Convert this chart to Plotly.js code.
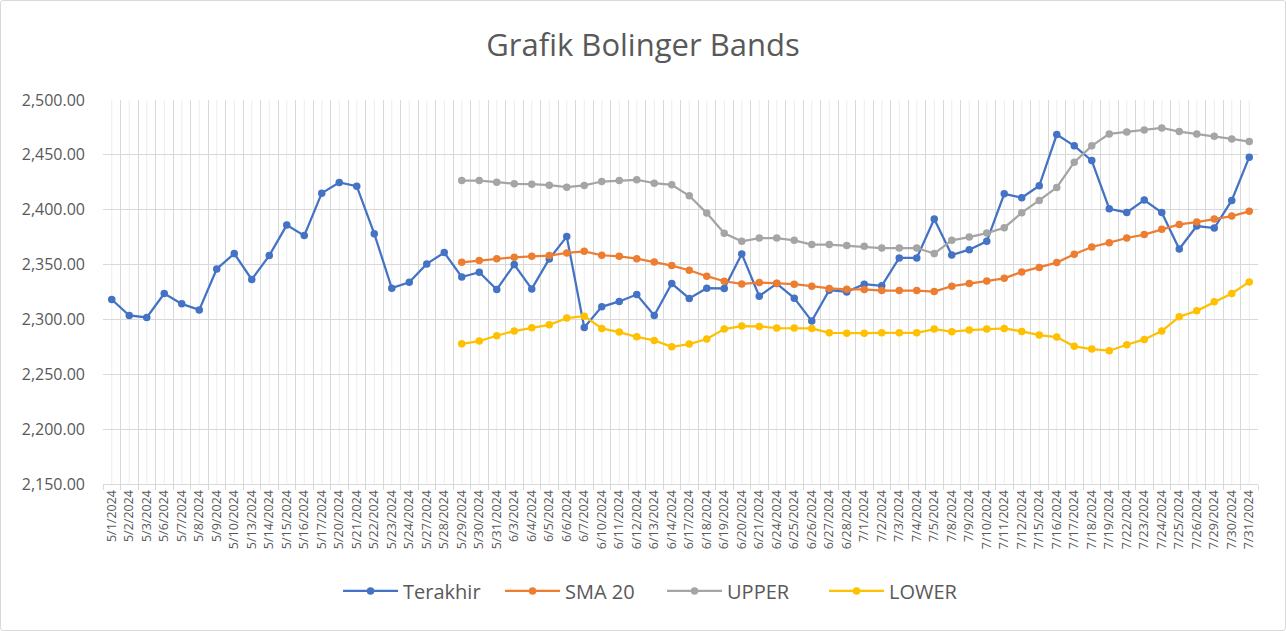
<!DOCTYPE html>
<html>
<head>
<meta charset="utf-8">
<script src="https://cdn.plot.ly/plotly-3.0.1.min.js"></script>
<style>
  html, body { margin: 0; padding: 0; background: #fff; }
  #wrap { position: relative; width: 1286px; height: 631px; }
  #chart { width: 1286px; height: 631px; }
  #frame { position: absolute; left: 0; top: 0; width: 1286px; height: 631px; box-sizing: border-box;
           border: 1px solid #d9d9d9; border-radius: 3px; pointer-events: none; }
</style>
</head>
<body>
<div id="wrap"><div id="chart"></div><div id="frame"></div></div>
<script>
const dates = [
  "5/1/2024","5/2/2024","5/3/2024","5/6/2024","5/7/2024","5/8/2024","5/9/2024","5/10/2024","5/13/2024","5/14/2024",
  "5/15/2024","5/16/2024","5/17/2024","5/20/2024","5/21/2024","5/22/2024","5/23/2024","5/24/2024","5/27/2024","5/28/2024",
  "5/29/2024","5/30/2024","5/31/2024","6/3/2024","6/4/2024","6/5/2024","6/6/2024","6/7/2024","6/10/2024","6/11/2024",
  "6/12/2024","6/13/2024","6/14/2024","6/17/2024","6/18/2024","6/19/2024","6/20/2024","6/21/2024","6/24/2024","6/25/2024",
  "6/26/2024","6/27/2024","6/28/2024","7/1/2024","7/2/2024","7/3/2024","7/4/2024","7/5/2024","7/8/2024","7/9/2024",
  "7/10/2024","7/11/2024","7/12/2024","7/15/2024","7/16/2024","7/17/2024","7/18/2024","7/19/2024","7/22/2024","7/23/2024",
  "7/24/2024","7/25/2024","7/26/2024","7/29/2024","7/30/2024","7/31/2024"
];

const terakhir = [
  2318.2,2303.6,2301.8,2323.6,2314.2,2308.7,2346.0,2360.0,2336.4,2358.2,
  2386.0,2376.4,2415.1,2424.8,2421.5,2378.2,2328.5,2333.9,2350.6,2360.9,
  2338.7,2343.0,2327.3,2350.0,2327.8,2355.1,2375.5,2292.7,2311.5,2316.4,
  2322.7,2303.6,2332.7,2319.1,2328.5,2328.2,2359.7,2321.2,2332.7,2319.4,
  2298.5,2326.6,2325.1,2332.1,2330.6,2356.0,2356.0,2391.5,2358.7,2363.6,
  2371.2,2414.5,2410.9,2421.8,2468.5,2458.2,2444.8,2400.9,2397.5,2408.8,
  2397.5,2364.2,2385.1,2383.3,2408.5,2447.9
];

const sma20 = [
  null,null,null,null,null,null,null,null,null,null,
  null,null,null,null,null,null,null,null,null,null,
  2352.1,2353.6,2355.4,2356.6,2357.5,2358.2,2360.6,2362.1,2358.5,2357.5,
  2355.4,2352.4,2349.1,2344.8,2339.4,2334.8,2332.4,2333.6,2333.0,2332.1,
  2330.3,2328.2,2327.5,2327.3,2326.3,2326.3,2326.3,2325.4,2330.3,2332.7,
  2335.1,2337.5,2343.3,2347.3,2351.8,2359.4,2366.0,2370.0,2374.2,2377.3,
  2382.1,2386.6,2388.7,2391.5,2394.2,2398.5
];

const upper = [
  null,null,null,null,null,null,null,null,null,null,
  null,null,null,null,null,null,null,null,null,null,
  2426.6,2426.6,2425.1,2423.6,2423.3,2422.4,2420.5,2422.1,2425.7,2426.6,
  2427.3,2424.2,2422.7,2412.7,2396.9,2378.5,2371.2,2374.2,2374.2,2372.1,
  2368.2,2368.2,2367.3,2366.6,2365.1,2365.1,2365.1,2360.0,2372.1,2375.1,
  2378.7,2383.6,2397.3,2408.5,2420.3,2443.3,2458.2,2469.1,2470.9,2472.7,
  2474.5,2471.2,2469.1,2466.9,2464.5,2462.1
];

const lower = [
  null,null,null,null,null,null,null,null,null,null,
  null,null,null,null,null,null,null,null,null,null,
  2277.8,2280.3,2285.1,2289.4,2292.4,2295.1,2301.2,2303.0,2291.8,2288.5,
  2284.1,2280.9,2275.1,2277.5,2282.1,2291.2,2293.9,2293.6,2292.1,2292.1,
  2291.8,2287.8,2287.5,2287.5,2287.8,2287.8,2287.8,2291.2,2288.8,2290.3,
  2291.2,2291.8,2289.1,2285.7,2283.9,2275.5,2273.0,2271.5,2276.9,2281.8,
  2289.4,2302.4,2307.8,2316.0,2323.6,2334.2
];

const seriesNames = ["Terakhir", "SMA 20", "UPPER", "LOWER"];
const seriesColors = ["#4472C4", "#ED7D31", "#A5A5A5", "#FFC000"];
const seriesValues = [terakhir, sma20, upper, lower];

const FONT = '"Open Sans", "Noto Sans", sans-serif';

const traces = seriesValues.map((vals, k) => ({
  type: "scatter",
  mode: "lines+markers",
  name: seriesNames[k],
  x: dates,
  y: vals,
  connectgaps: false,
  line: { color: seriesColors[k], width: 2.25 },
  marker: { color: seriesColors[k], size: 7.5 }
}));

// light gridlines through the category centres
const shapes = dates.map((d, i) => ({
  type: "line", xref: "x", yref: "paper", x0: i, x1: i, y0: 0, y1: 1,
  layer: "below", line: { color: "#ececec", width: 1 }
}));

const layout = {
  width: 1286, height: 631,
  paper_bgcolor: "#ffffff", plot_bgcolor: "#ffffff",
  margin: { l: 103, r: 28, t: 100, b: 147 },
  font: { family: FONT, color: "#595959" },
  title: {
    text: "Grafik Bolinger Bands",
    font: { family: FONT, size: 31, color: "#595959" },
    x: 0.5, xanchor: "center", y: 1 - 45 / 631, yanchor: "middle"
  },
  xaxis: {
    type: "category",
    categoryorder: "array", categoryarray: dates,
    tickangle: -90,
    tickson: "boundaries",
    ticks: "outside", ticklen: 5, tickcolor: "#d9d9d9",
    showgrid: true, gridcolor: "#d9d9d9", gridwidth: 1,
    showline: true, linecolor: "#d9d9d9", linewidth: 1,
    tickfont: { family: FONT, size: 12.5, color: "#595959" },
    range: [-0.5, dates.length - 0.5],
    fixedrange: true, zeroline: false
  },
  yaxis: {
    range: [2150, 2500],
    dtick: 50, tick0: 2150,
    tickformat: ",.2f",
    showgrid: true, gridcolor: "#d9d9d9", gridwidth: 1,
    showline: false, zeroline: false,
    ticks: "", ticklabelstandoff: 17,
    tickfont: { family: FONT, size: 16, color: "#595959" },
    fixedrange: true
  },
  shapes: shapes,
  showlegend: true,
  legend: {
    orientation: "h",
    x: 0.2035, xanchor: "left",
    y: -0.2786, yanchor: "middle",
    font: { family: FONT, size: 20, color: "#595959" },
    itemwidth: 55,
    entrywidth: 92,
    bgcolor: "rgba(0,0,0,0)"
  }
};

Plotly.newPlot("chart", traces, layout, { displayModeBar: false, staticPlot: true });
</script>
</body>
</html>
